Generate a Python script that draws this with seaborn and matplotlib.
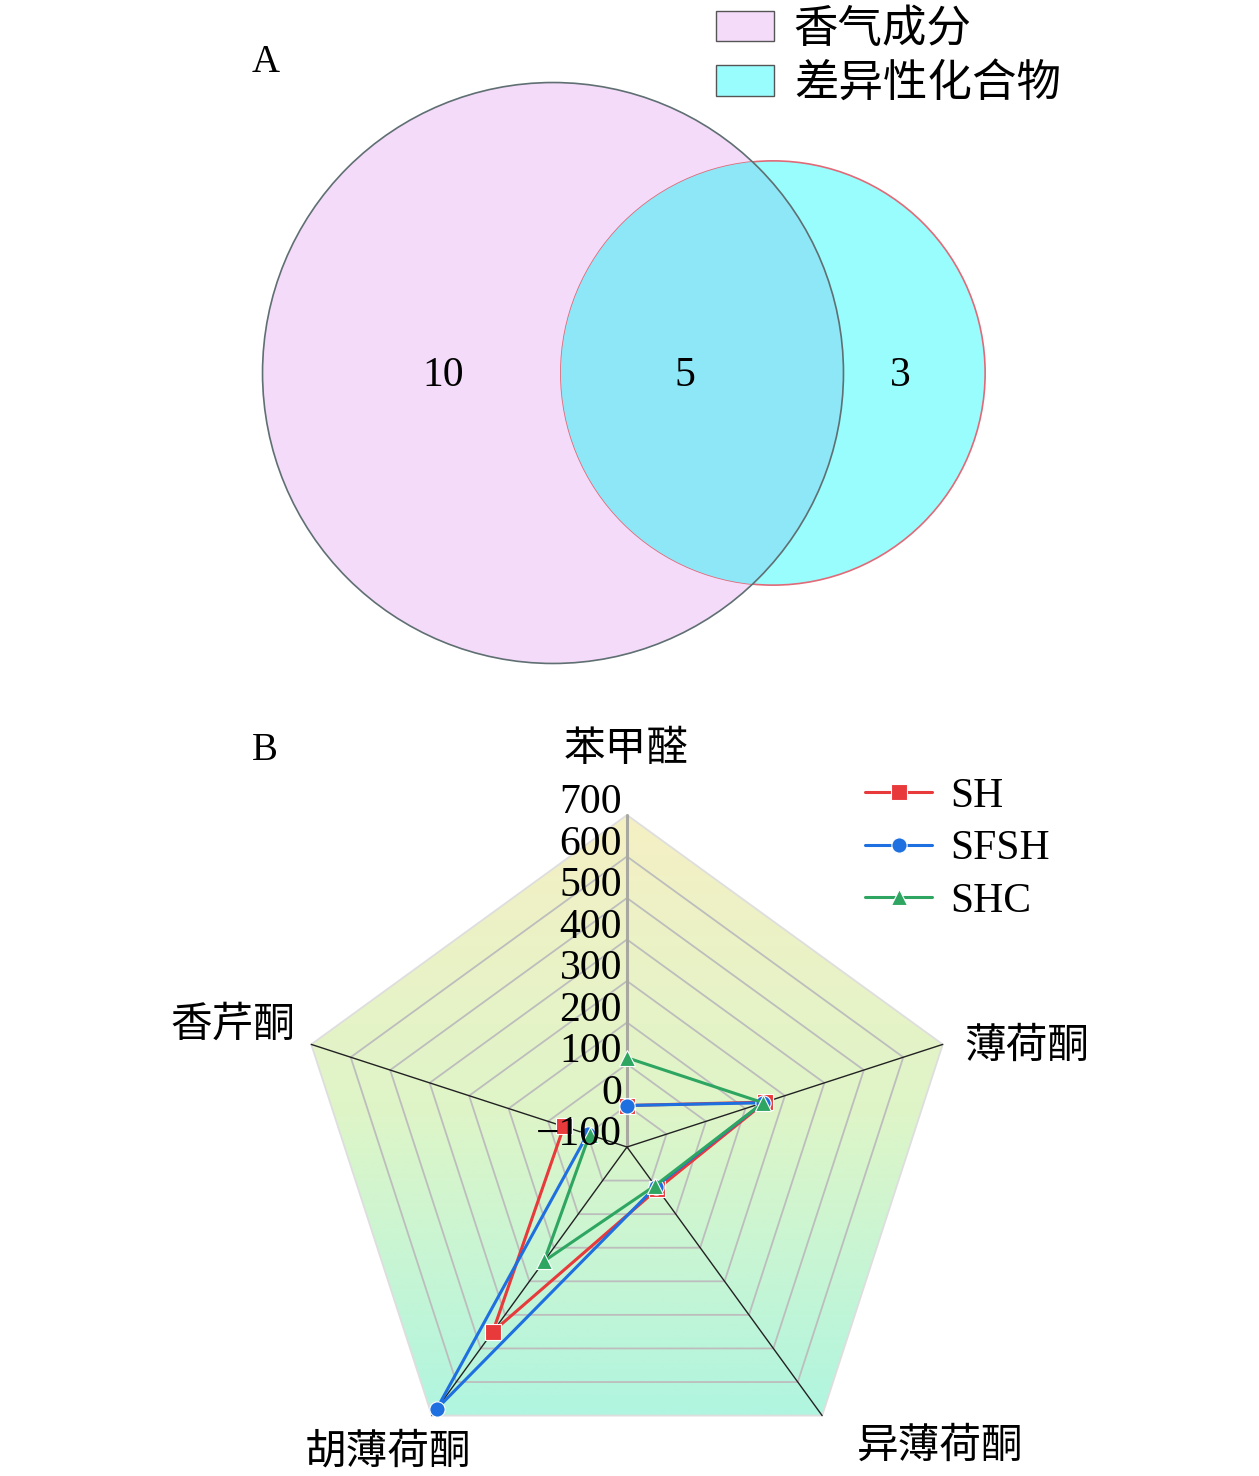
import numpy as np
import seaborn as sns
import matplotlib.pyplot as plt
from matplotlib.patches import Circle, Polygon, Patch
from matplotlib.colors import LinearSegmentedColormap

# Venn counts (A)
only_aroma = 10
shared = 5
only_diff = 3
venn_names = ["香气成分", "差异性化合物"]

# radar values (B)
compounds = ["苯甲醛", "薄荷酮", "异薄荷酮", "胡薄荷酮", "香芹酮"]
sh = [0, 250, 25, 450, 60]
sfsh = [0, 245, 18, 680, 0]
shc = [115, 245, 15, 240, -5]
ticks = [-100, 0, 100, 200, 300, 400, 500, 600, 700]

sns.set_theme(style="white")
plt.rcParams["font.family"] = ["Liberation Serif", "Noto Sans CJK SC"]
plt.rcParams["text.color"] = "black"

W, H = 1259, 1476
fig = plt.figure(figsize=(W / 100, H / 100), dpi=100)

# ---------------- A: venn ----------------
axA = fig.add_axes([0, 0, 1, 1])
axA.set_xlim(0, W)
axA.set_ylim(H, 0)
axA.axis("off")

k = 75.0
r_big = k * np.sqrt(only_aroma + shared)
r_small = k * np.sqrt(only_diff + shared)
c_big = (553, 373)
c_small = (773, 373)

big = Circle(c_big, r_big, facecolor="#f5dbfa", edgecolor="none", zorder=1)
axA.add_patch(big)
small = Circle(c_small, r_small, facecolor="#99fdfd", edgecolor="#e06a78", lw=1.2, zorder=2)
axA.add_patch(small)
ov = Circle(c_small, r_small, facecolor="#8ee7f7", edgecolor="none", zorder=3)
axA.add_patch(ov)
ov.set_clip_path(big)
axA.add_patch(Circle(c_big, r_big, facecolor="none", edgecolor="#5f6f72", lw=1.2, zorder=4))

fs = 30
axA.text(443, 376, str(only_aroma), fontsize=fs, ha="center", va="center", zorder=5)
axA.text(685, 376, str(shared), fontsize=fs, ha="center", va="center", zorder=5)
axA.text(900, 376, str(only_diff), fontsize=fs, ha="center", va="center", zorder=5)
axA.text(266, 63, "A", fontsize=28, ha="center", va="center")

handles = [Patch(facecolor="#f5dbfa", edgecolor="#555555", lw=1),
           Patch(facecolor="#99fdfd", edgecolor="#555555", lw=1)]
axA.legend(handles, venn_names, loc="upper left", bbox_to_anchor=(685 / W, 1 + 22 / H),
           bbox_transform=fig.transFigure, frameon=False, fontsize=32,
           handlelength=1.3, handleheight=0.68, handletextpad=0.45, labelspacing=0.28,
           borderpad=0.2)

# ---------------- B: radar ----------------
cx, cy, R = 627, 1147, 332.0
axB = fig.add_axes([0, 0, 1, 1])
axB.patch.set_alpha(0)
axB.axis("off")
xlim = (-cx / R, (W - cx) / R)
ylim = (-(H - cy) / R, cy / R)

vmin, vmax = ticks[0], ticks[-1]
angles = np.deg2rad([90, 18, -54, -126, 162])


def to_xy(vals):
    r = (np.asarray(vals, float) - vmin) / (vmax - vmin)
    return r * np.cos(angles), r * np.sin(angles)


outer = np.column_stack([np.cos(angles), np.sin(angles)])
cmap = LinearSegmentedColormap.from_list("g", ["#f5f0c4", "#def5c8", "#b0f5e0"])
grad = np.linspace(0, 1, 256).reshape(-1, 1)
im = axB.imshow(grad, cmap=cmap, aspect="auto", origin="upper",
                extent=[outer[:, 0].min(), outer[:, 0].max(), outer[:, 1].min(), 1.0], zorder=0)
clip = Polygon(outer, closed=True, transform=axB.transData, facecolor="none", edgecolor="none")
axB.add_patch(clip)
im.set_clip_path(clip)

for t in ticks[1:]:
    rr = (t - vmin) / (vmax - vmin)
    col = "#dedede" if t == vmax else "#bdbdbd"
    axB.add_patch(Polygon(outer * rr, closed=True, fill=False, edgecolor=col, lw=1.3, zorder=1))

for i, (x, y) in enumerate(outer):
    if i == 0:
        axB.plot([0, x], [0, y], color="#a8a8a0", lw=2.2, zorder=2)
    else:
        axB.plot([0, x], [0, y], color="#222222", lw=1.0, zorder=2)

for t in ticks:
    rr = (t - vmin) / (vmax - vmin)
    lab = str(t).replace("-", "\u2212")
    axB.text(-5 / R, rr + 12 / R, lab, fontsize=30, ha="right", va="center", zorder=6)

series = [("SH", sh, "#e8393b", "s"), ("SFSH", sfsh, "#1e6fe0", "o"), ("SHC", shc, "#2ea662", "^")]
for name, vals, col, mk in series:
    x, y = to_xy(vals)
    sns.lineplot(x=x, y=y, sort=False, ax=axB, color=col, lw=2.2, marker=mk,
                 markersize=11, markeredgecolor="white", markeredgewidth=0.8, label=name, zorder=5)

offsets = [(-1, -64), (84, 3), (118, 32), (-44, 38), (-78, -18)]
for (x, y), name, (dx, dy) in zip(outer, compounds, offsets):
    axB.text(x + dx / R, y - dy / R, name, fontsize=30, ha="center", va="center")

axB.text(-362 / R, (cy - 750) / R, "B", fontsize=28, ha="center", va="center")

axB.legend(loc="upper left", bbox_to_anchor=(836 / W, 1 - 748 / H), bbox_transform=fig.transFigure,
           frameon=False, fontsize=30, handlelength=1.6, handletextpad=0.45, labelspacing=0.34,
           borderpad=0.2)

axB.set_xlim(*xlim)
axB.set_ylim(*ylim)

fig.savefig("out.png", dpi=100)
